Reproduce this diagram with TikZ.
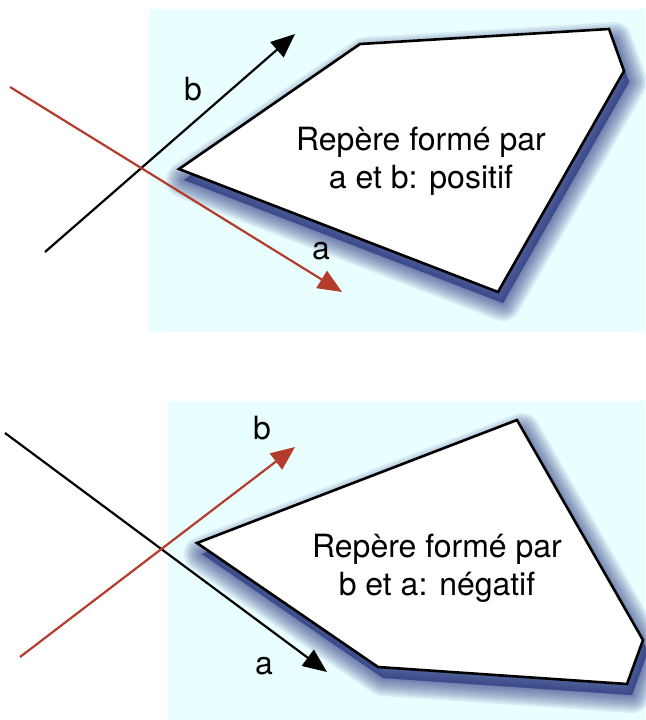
\documentclass[tikz,border=0pt]{standalone}
\usepackage{fontspec}
\setmainfont{TeX Gyre Heros}
\usetikzlibrary{arrows.meta}
\definecolor{bgcyan}{RGB}{233,255,255}
\definecolor{vecred}{RGB}{180,60,45}
\definecolor{shadowblue}{RGB}{30,42,120}
\tikzset{
  panel/.style={fill=bgcyan,draw=none},
  polybox/.style={draw=black,line width=1.3pt,fill=white,line join=miter},
  shadowlayer/.style={draw=shadowblue,fill=shadowblue,opacity=0.085,line join=round},
  vec/.style={line width=1.1pt,-{Triangle[length=12pt,width=10pt]}},
  lbl/.style={font=\fontsize{16}{19}\selectfont,inner sep=0pt},
  txt/.style={font=\fontsize{16}{19}\selectfont,align=center,inner sep=0pt}
}
\begin{document}
\begin{tikzpicture}[x=0.5pt,y=-0.5pt]
\useasboundingbox (0,0) rectangle (645,720);
% panels
\fill[panel] (149,9) rectangle (645,332);
\fill[panel] (168,401) rectangle (645,720);
% ---- top panel ----
\coordinate (p1) at (179,169);
\coordinate (p2) at (360,44);
\coordinate (p3) at (609,29);
\coordinate (p4) at (624,71);
\coordinate (p5) at (498,292);
\begin{scope}[transform canvas={xshift=2.5pt,yshift=-5.5pt}]
\foreach \w in {18,16,14,12,10,8,6,4,2,0.5}{
  \path[shadowlayer,line width=\w pt] (p1) -- (p2) -- (p3) -- (p4) -- (p5) -- cycle;
}
\end{scope}
\draw[polybox] (p1) -- (p2) -- (p3) -- (p4) -- (p5) -- cycle;
\node[txt] (t1) at (421,161) {Repère formé par\\a et b: positif};
\coordinate (bs1) at (45,252);
\coordinate (be1) at (295,34);
\coordinate (as1) at (10,87);
\coordinate (ae1) at (342,292);
\draw[vec,black] (bs1) -- (be1);
\draw[vec,vecred,draw=vecred] (as1) -- (ae1);
\node[lbl] (lb1) at (193,89) {b};
\node[lbl] (la1) at (321,251) {a};
% ---- bottom panel ----
\coordinate (q1) at (197,543);
\coordinate (q2) at (517,420);
\coordinate (q3) at (643,640);
\coordinate (q4) at (627,684);
\coordinate (q5) at (378,667);
\begin{scope}[transform canvas={xshift=2.5pt,yshift=-5.5pt}]
\foreach \w in {18,16,14,12,10,8,6,4,2,0.5}{
  \path[shadowlayer,line width=\w pt] (q1) -- (q2) -- (q3) -- (q4) -- (q5) -- cycle;
}
\end{scope}
\draw[polybox] (q1) -- (q2) -- (q3) -- (q4) -- (q5) -- cycle;
\node[txt] (t2) at (437,568) {Repère formé par\\b et a: négatif};
\coordinate (as2) at (5,433);
\coordinate (ae2) at (327,672);
\coordinate (bs2) at (20,657);
\coordinate (be2) at (295,447);
\draw[vec,black] (as2) -- (ae2);
\draw[vec,vecred,draw=vecred] (bs2) -- (be2);
\node[lbl] (lb2) at (262,428) {b};
\node[lbl] (la2) at (264,666) {a};
\end{tikzpicture}
\end{document}
